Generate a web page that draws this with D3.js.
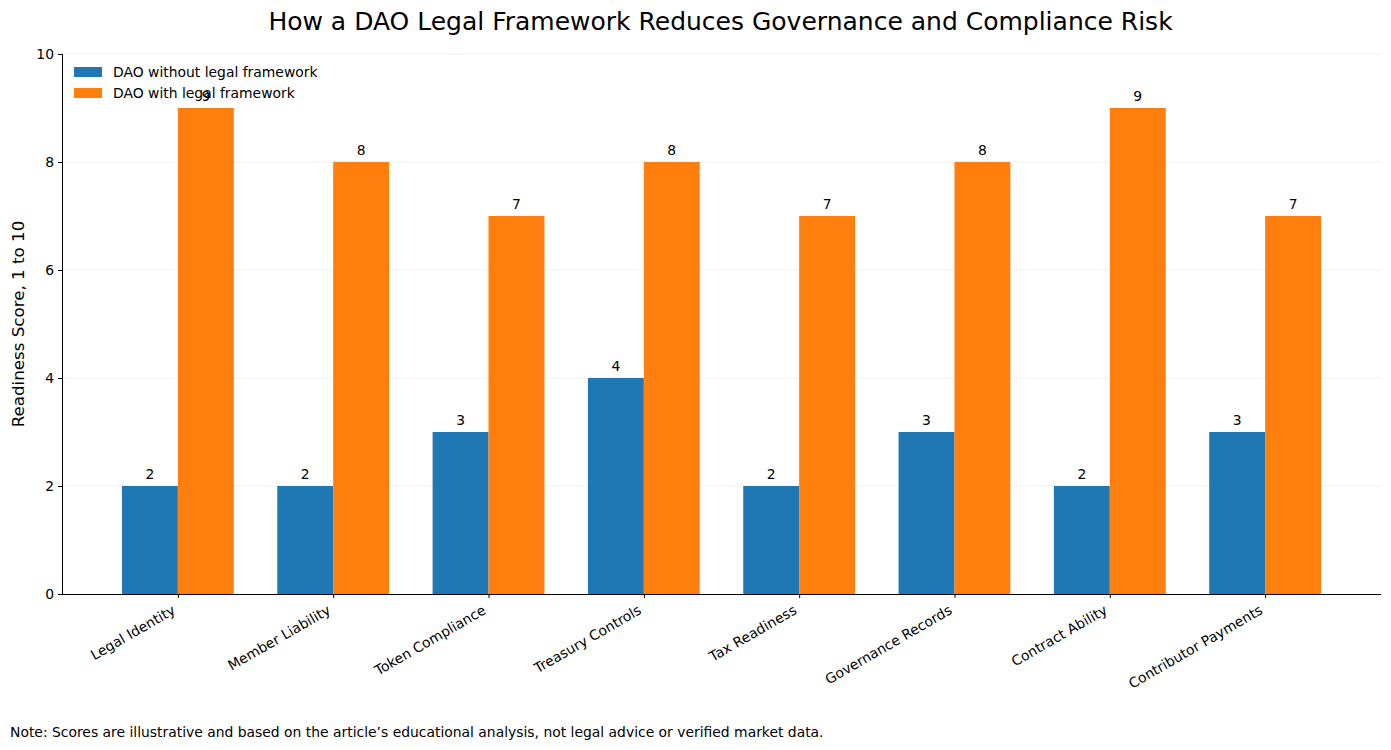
<!DOCTYPE html>
<html>
<head>
<meta charset="utf-8">
<script src="https://cdn.jsdelivr.net/npm/d3@7"></script>
<style>
  body { margin: 0; background: white; }
  text { font-family: "DejaVu Sans", sans-serif; fill: #000; }
</style>
</head>
<body>
<script>
'use strict';

// chart data
const categories = ["Legal Identity", "Member Liability", "Token Compliance", "Treasury Controls",
                    "Tax Readiness", "Governance Records", "Contract Ability", "Contributor Payments"];
const withoutFramework = [2, 2, 3, 4, 2, 3, 2, 3];
const withFramework = [9, 8, 7, 8, 7, 8, 9, 7];
const seriesNames = ["DAO without legal framework", "DAO with legal framework"];
const yTicks = [0, 2, 4, 6, 8, 10];

(function() {
    const width = 1391, height = 750;
    const plot = {left: 62, right: 1381, top: 54, bottom: 594};
    const barW = 0.36;
    const colors = ["#1f77b4", "#ff7f0e"];
    const fs = '13.9px';

    let svg = d3.select('body')
        .append('svg')
        .attr('width', width)
        .attr('height', height);

    // x scale in index units, padded like matplotlib does
    let xScale = d3.scaleLinear()
        .domain([-0.746, categories.length - 1 + 0.746])
        .range([plot.left, plot.right]);

    let yScale = d3.scaleLinear()
        .domain([0, 10])
        .range([plot.bottom, plot.top]);

    // grid lines
    svg.append('g')
        .selectAll('line')
        .data(yTicks.filter(d => d > 0))
        .enter()
        .append('line')
            .attr('x1', plot.left)
            .attr('x2', plot.right)
            .attr('y1', d => yScale(d))
            .attr('y2', d => yScale(d))
            .attr('stroke', '#ebebeb')
            .attr('stroke-width', 0.8);

    // bars
    let series = [withoutFramework, withFramework];
    series.forEach((vals, s) => {
        let off = s === 0 ? -barW : 0;
        svg.append('g')
            .selectAll('rect')
            .data(vals)
            .enter()
            .append('rect')
                .attr('x', (d, i) => xScale(i + off))
                .attr('y', d => yScale(d))
                .attr('width', xScale(barW) - xScale(0))
                .attr('height', d => yScale(0) - yScale(d))
                .attr('fill', colors[s]);

        // value labels
        svg.append('g')
            .selectAll('text')
            .data(vals)
            .enter()
            .append('text')
                .attr('x', (d, i) => xScale(i + off + barW / 2))
                .attr('y', d => yScale(d) - 7)
                .attr('text-anchor', 'middle')
                .style('font-size', fs)
                .text(d => d);
    });

    // y axis
    let yAxis = d3.axisLeft(yScale).tickValues(yTicks).tickSize(4).tickPadding(4);
    let gy = svg.append('g')
        .attr('transform', 'translate(' + plot.left + ',0)')
        .call(yAxis);
    gy.select('.domain').attr('stroke', '#000').attr('stroke-width', 1).attr('d', 'M0.5,' + plot.top + 'V' + plot.bottom);
    gy.selectAll('text').style('font-size', fs).style('font-family', '"DejaVu Sans", sans-serif');

    // x axis
    let xAxis = d3.axisBottom(xScale)
        .tickValues(d3.range(categories.length))
        .tickFormat(i => categories[i])
        .tickSize(4);
    let gx = svg.append('g')
        .attr('transform', 'translate(0,' + plot.bottom + ')')
        .call(xAxis);
    gx.select('.domain').attr('stroke', '#000').attr('d', 'M' + plot.left + ',0.5H' + plot.right);
    gx.selectAll('text')
        .style('font-size', fs)
        .style('font-family', '"DejaVu Sans", sans-serif')
        .attr('text-anchor', 'end')
        .attr('dy', 0)
        .attr('y', 0)
        .attr('transform', 'translate(-2,19) rotate(-30)');

    // legend
    let legend = svg.append('g');
    seriesNames.forEach((name, s) => {
        legend.append('rect')
            .attr('x', 74)
            .attr('y', 67 + s * 21)
            .attr('width', 28)
            .attr('height', 10)
            .attr('fill', colors[s]);
        legend.append('text')
            .attr('x', 113)
            .attr('y', 77 + s * 21)
            .style('font-size', fs)
            .text(name);
    });

    // title and labels
    svg.append('text')
        .attr('x', (plot.left + plot.right) / 2 - 1)
        .attr('y', 30)
        .attr('text-anchor', 'middle')
        .style('font-size', '25px')
        .text('How a DAO Legal Framework Reduces Governance and Compliance Risk');

    svg.append('text')
        .attr('transform', 'translate(24,' + ((plot.top + plot.bottom) / 2) + ') rotate(-90)')
        .attr('text-anchor', 'middle')
        .style('font-size', '16.7px')
        .text('Readiness Score, 1 to 10');

    svg.append('text')
        .attr('x', 10)
        .attr('y', 737)
        .style('font-size', fs)
        .text('Note: Scores are illustrative and based on the article\u2019s educational analysis, not legal advice or verified market data.');
})();
</script>
</body>
</html>
